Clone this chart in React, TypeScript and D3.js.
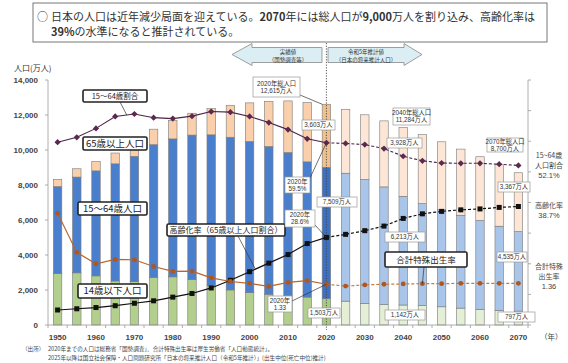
import React from "react";
import * as d3 from "d3";

const years = [1950,1955,1960,1965,1970,1975,1980,1985,1990,1995,2000,2005,2010,2015,2020,2025,2030,2035,2040,2045,2050,2055,2060,2065,2070];
const pop0to14 = [2943,2980,2807,2517,2482,2722,2751,2603,2254,2003,1851,1759,1684,1595,1503,1363,1240,1169,1142,1103,1041,966,893,836,797];
const pop15to64 = [4966,5473,6000,6693,7157,7581,7883,8251,8614,8726,8638,8442,8174,7728,7509,7310,7076,6722,6213,5832,5540,5307,5078,4809,4535];
const pop65plus = [411,475,535,618,733,887,1065,1247,1493,1828,2204,2576,2948,3387,3603,3653,3696,3773,3928,3945,3888,3778,3644,3513,3367];
const share15to64 = [59.7,61.3,64.2,68.1,68.9,67.7,67.4,68.2,69.7,69.5,68.1,66.1,63.8,60.8,59.5,59.3,58.9,57.6,55.1,53.6,52.9,52.8,52.8,52.5,52.1];
const agingRate = [4.9,5.3,5.7,6.3,7.1,7.9,9.1,10.3,12.1,14.6,17.4,20.2,23.0,26.6,28.6,29.6,30.8,32.3,34.8,36.3,37.1,37.6,37.9,38.4,38.7];
const fertility = [3.65,2.37,2.0,2.14,2.13,1.91,1.75,1.76,1.54,1.42,1.36,1.26,1.39,1.45,1.33,1.27,1.31,1.33,1.34,1.35,1.35,1.36,1.36,1.36,1.36];
const yTicks = [0,2000,4000,6000,8000,10000,12000,14000];
const rightTicks = [0,10,20,30,40,50,60,70,80];
const xLabelYears = [1950,1960,1970,1980,1990,2000,2010,2020,2030,2040,2050,2060,2070];
const baseYear = 2020;
const totalYears = [2020,2040,2070];
const totalValues = [12615,11284,8700];

const FONT = "'Liberation Sans', 'Noto Sans CJK JP', sans-serif";
const JP = "'Noto Sans CJK JP', sans-serif";

const COLORS: any = {
  hist: { a: "#b3cf8e", b: "#4a7fcd", c: "#f9cfac" },
  base: { a: "#a9c985", b: "#3b70c2", c: "#f1c08f" },
  proj: { a: "#e4efd6", b: "#a9c5ea", c: "#fde6d5" },
};

export default function App() {
  const W = 568, H = 363;
  const x = d3.scaleBand<number>().domain(years).range([48, 528]).paddingInner(0.56).paddingOuter(0.28);
  const y = d3.scaleLinear().domain([0, 14000]).range([325, 80]);
  const yr = d3.scaleLinear().domain([0, 80]).range([325, 80]);
  const bw = x.bandwidth();
  const cx = (yy: number) => (x(yy) as number) + bw / 2;
  const fmt = d3.format(",");

  const rows = years.map((yy, i) => ({ year: yy, a: pop0to14[i], b: pop15to64[i], c: pop65plus[i] }));
  const stack = d3.stack<any>().keys(["a", "b", "c"])(rows);

  const idx = (yy: number) => years.indexOf(yy);
  const bi = idx(baseYear);

  const mkPts = (vals: number[], scale = 1) => years.map((yy, i) => [cx(yy), yr(vals[i] * scale)] as [number, number]);
  const shareP = mkPts(share15to64);
  const agingP = mkPts(agingRate);
  const tfrP = mkPts(fertility, 10);
  const line = d3.line();
  const hist = (p: [number, number][]) => line(p.slice(0, bi + 1)) as string;
  const proj = (p: [number, number][]) => line(p.slice(bi)) as string;

  const stepPad = x.step();
  const boundaries = d3.range(years.length + 1).map((i) => 48 + i * stepPad);

  const lerp = (p: [number, number], q: [number, number], t: number) => [p[0] + (q[0] - p[0]) * t, p[1] + (q[1] - p[1]) * t];

  const seriesBoxes = [
    { x: 83, y: 90, w: 64, h: 12, fs: 7.5, text: "15〜64歳割合" },
    { x: 83, y: 137, w: 64, h: 13, fs: 9.5, text: "65歳以上人口" },
    { x: 78, y: 202, w: 69, h: 13, fs: 9.5, text: "15〜64歳人口" },
    { x: 78, y: 284, w: 69, h: 14, fs: 9.5, text: "14歳以下人口" },
    { x: 167, y: 224, w: 118, h: 12, fs: 8, text: "高齢化率（65歳以上人口割合）" },
    { x: 385, y: 252, w: 82, h: 15, fs: 8.5, text: "合計特殊出生率" },
  ];

  const ti = (yy: number) => totalValues[totalYears.indexOf(yy)];
  const valueBoxes = [
    { x: 253, y: 77, w: 47, h: 20, lines: [`${baseYear}年総人口`, `${fmt(ti(2020))}万人`] },
    { x: 302, y: 120, w: 33, h: 10, lines: [`${fmt(pop65plus[bi])}万人`] },
    { x: 285, y: 177, w: 25, h: 16, lines: [`${baseYear}年`, `${share15to64[bi]}%`] },
    { x: 317, y: 197, w: 40, h: 10, lines: [`${fmt(pop15to64[bi])}万人`] },
    { x: 285, y: 210, w: 30, h: 17, lines: [`${baseYear}年`, `${agingRate[bi]}%`] },
    { x: 268, y: 296, w: 24, h: 16, lines: [`${baseYear}年`, `${fertility[bi]}`] },
    { x: 308, y: 308, w: 32, h: 10, lines: [`${fmt(pop0to14[bi])}万人`] },
    { x: 393, y: 108, w: 37, h: 17, lines: ["2040年総人口", `${fmt(ti(2040))}万人`] },
    { x: 387, y: 138, w: 35, h: 10, lines: [`${fmt(pop65plus[idx(2040)])}万人`] },
    { x: 385, y: 232, w: 40, h: 10, lines: [`${fmt(pop15to64[idx(2040)])}万人`] },
    { x: 385, y: 310, w: 40, h: 10, lines: [`${fmt(pop0to14[idx(2040)])}万人`] },
    { x: 487, y: 138, w: 36, h: 14, lines: ["2070年総人口", `${fmt(ti(2070))}万人`] },
    { x: 498, y: 182, w: 32, h: 10, lines: [`${fmt(pop65plus[idx(2070)])}万人`] },
    { x: 497, y: 252, w: 30, h: 10, lines: [`${fmt(pop15to64[idx(2070)])}万人`] },
    { x: 498, y: 312, w: 37, h: 10, lines: [`${fmt(pop0to14[idx(2070)])}万人`] },
  ];

  const l1 = lerp(shareP[3], shareP[4], 0.6);
  const l2 = lerp(agingP[10], agingP[11], 0.3);
  const leaders = [
    [120, 102, l1[0], l1[1]],
    [238, 236, l2[0], l2[1]],
    [424, 267, tfrP[idx(2045)][0], tfrP[idx(2045)][1]],
    [300, 95, cx(2020) - bw / 2, y(ti(2020))],
    [310, 178, shareP[bi][0], shareP[bi][1]],
    [315, 225, agingP[bi][0], agingP[bi][1]],
    [292, 301, tfrP[bi][0], tfrP[bi][1]],
  ];

  const last = years.length - 1;

  return (
    <svg width={W} height={H} style={{ position: "absolute", left: 0, top: 0, background: "#fff" }} fontFamily={FONT}>
      {/* header */}
      <rect x={33} y={3} width={514} height={39} fill="#fff" stroke="#777" strokeWidth={1} />
      <text x={37} y={21} fontSize={11} fill="#333" fontFamily={JP}>○</text>
      <text x={51} y={21} fontSize={11} fill="#333" fontFamily={JP}>
        日本の人口は近年減少局面を迎えている。<tspan fontWeight="bold">2070</tspan>年には総人口が<tspan fontWeight="bold">9,000</tspan>万人を割り込み、高齢化率は
      </text>
      <text x={51} y={36} fontSize={11} fill="#333" fontFamily={JP}>
        <tspan fontWeight="bold">39%</tspan>の水準になると推計されている。
      </text>

      {/* arrows */}
      <path d="M232,54.5 L252,43.5 L252,47.5 L322,47.5 L322,62.5 L252,62.5 L252,65.5 Z" fill="#daeef3" stroke="#888" strokeWidth={0.8} />
      <path d="M422,54.5 L404,43.5 L404,47.5 L328,47.5 L328,62.5 L404,62.5 L404,65.5 Z" fill="#daeef3" stroke="#888" strokeWidth={0.8} />
      <g fontSize={5.5} textAnchor="middle" fill="#333" fontFamily={JP}>
        <text x={288} y={53.5}>実績値</text>
        <text x={288} y={61.5}>（国勢調査等）</text>
        <text x={366} y={53.5}>令和5年推計値</text>
        <text x={366} y={61.5}>（日本の将来推計人口）</text>
      </g>

      {/* bars */}
      {stack.map((s) =>
        s.map((d: any, i: number) => {
          const yy = years[i];
          const pal = yy < baseYear ? COLORS.hist : yy === baseYear ? COLORS.base : COLORS.proj;
          return (
            <rect key={s.key + yy} x={x(yy)} y={y(d[1])} width={bw} height={y(d[0]) - y(d[1])}
              fill={pal[s.key]} stroke="#7a7a7a" strokeWidth={0.6} />
          );
        })
      )}

      {/* dotted 2020 divider */}
      <line x1={cx(baseYear)} x2={cx(baseYear)} y1={43} y2={330} stroke="#444" strokeWidth={0.9} strokeDasharray="1.2,1.5" />

      {/* axes */}
      <line x1={48} x2={48} y1={80} y2={325} stroke="#999" strokeWidth={0.8} />
      {yTicks.map((t) => (
        <g key={t}>
          <line x1={45} x2={48} y1={y(t)} y2={y(t)} stroke="#999" strokeWidth={0.8} />
          <text x={38} y={y(t)} dy="0.35em" textAnchor="end" fontSize={8} fontWeight="bold" fill="#444">{fmt(t)}</text>
        </g>
      ))}
      <line x1={528} x2={528} y1={80} y2={325} stroke="#999" strokeWidth={0.8} />
      {rightTicks.map((t) => (
        <line key={t} x1={528} x2={531} y1={yr(t)} y2={yr(t)} stroke="#999" strokeWidth={0.8} />
      ))}
      <line x1={48} x2={528} y1={325} y2={325} stroke="#999" strokeWidth={0.8} />
      {boundaries.map((b, i) => (
        <line key={i} x1={b} x2={b} y1={325} y2={328} stroke="#999" strokeWidth={0.8} />
      ))}
      {xLabelYears.map((yy) => (
        <text key={yy} x={cx(yy)} y={340} textAnchor="middle" fontSize={8} fontWeight="bold" fill="#444">{yy}</text>
      ))}
      <text x={540} y={340} fontSize={7.5} fill="#444" fontFamily={JP}>（年）</text>
      <text x={14} y={71} fontSize={8} fill="#333" fontFamily={JP}>人口(万人)</text>

      {/* lines */}
      <path d={hist(shareP)} fill="none" stroke="#4b2346" strokeWidth={1.1} />
      <path d={proj(shareP)} fill="none" stroke="#4b2346" strokeWidth={1.1} strokeDasharray="3,2" />
      {shareP.map((p, i) => (
        <rect key={i} x={p[0] - 2.2} y={p[1] - 2.2} width={4.4} height={4.4} fill="#5a2850"
          transform={`rotate(45 ${p[0]} ${p[1]})`} />
      ))}
      <path d={hist(agingP)} fill="none" stroke="#111" strokeWidth={1.2} />
      <path d={proj(agingP)} fill="none" stroke="#111" strokeWidth={1.2} strokeDasharray="3,2" />
      {agingP.map((p, i) => (
        <rect key={i} x={p[0] - 2.5} y={p[1] - 2.5} width={5} height={5} fill="#111" />
      ))}
      <path d={hist(tfrP)} fill="none" stroke="#b8652c" strokeWidth={1.2} />
      <path d={proj(tfrP)} fill="none" stroke="#c77a35" strokeWidth={1.2} strokeDasharray="3,2" />
      {tfrP.map((p, i) => (
        <circle key={i} cx={p[0]} cy={p[1]} r={2.4} fill="#b0561e" />
      ))}

      {/* leaders */}
      {leaders.map((l, i) => (
        <line key={i} x1={l[0]} y1={l[1]} x2={l[2]} y2={l[3]} stroke="#333" strokeWidth={0.7} />
      ))}

      {/* series label boxes */}
      {seriesBoxes.map((b, i) => (
        <g key={i}>
          <rect x={b.x} y={b.y} width={b.w} height={b.h} rx={1.5} fill="#fff" stroke="#222" strokeWidth={1.6} />
          <text x={b.x + b.w / 2} y={b.y + b.h / 2} dy="0.36em" textAnchor="middle" fontSize={b.fs} fill="#222" fontFamily={JP}>{b.text}</text>
        </g>
      ))}

      {/* value boxes */}
      {valueBoxes.map((b, i) => (
        <g key={i}>
          <rect x={b.x} y={b.y} width={b.w} height={b.h} fill="#fff" stroke="#999" strokeWidth={0.7} />
          {b.lines.map((t, j) => (
            <text key={j} x={b.x + b.w / 2} y={b.y + b.h / 2 + (j - (b.lines.length - 1) / 2) * 7} dy="0.36em"
              textAnchor="middle" fontSize={6.3} fill="#333">{t}</text>
          ))}
        </g>
      ))}

      {/* right-side end labels */}
      <g fontSize={7} fill="#444" textAnchor="middle" fontFamily={JP}>
        <text x={549} y={158}>15~64歳</text>
        <text x={549} y={168.3}>人口割合</text>
        <text x={549} y={177.5} fontFamily={FONT} fontSize={7.5}>{share15to64[last]}%</text>
        <text x={549} y={208}>高齢化率</text>
        <text x={549} y={217.5} fontFamily={FONT} fontSize={7.5}>{agingRate[last]}%</text>
        <text x={549} y={269}>合計特殊</text>
        <text x={549} y={279.3}>出生率</text>
        <text x={549} y={288.5} fontFamily={FONT} fontSize={7.5}>{fertility[last]}</text>
      </g>

      {/* source */}
      <g fontSize={5.6} fill="#444" fontFamily={JP}>
        <text x={22} y={351}>（出所）</text>
        <text x={48} y={351}>2020年までの人口は総務省「国勢調査」、合計特殊出生率は厚生労働省「人口動態統計」。</text>
        <text x={48} y={359.5}>2025年以降は国立社会保障・人口問題研究所「日本の将来推計人口（令和5年推計）」(出生中位(死亡中位)推計)</text>
      </g>
    </svg>
  );
}
